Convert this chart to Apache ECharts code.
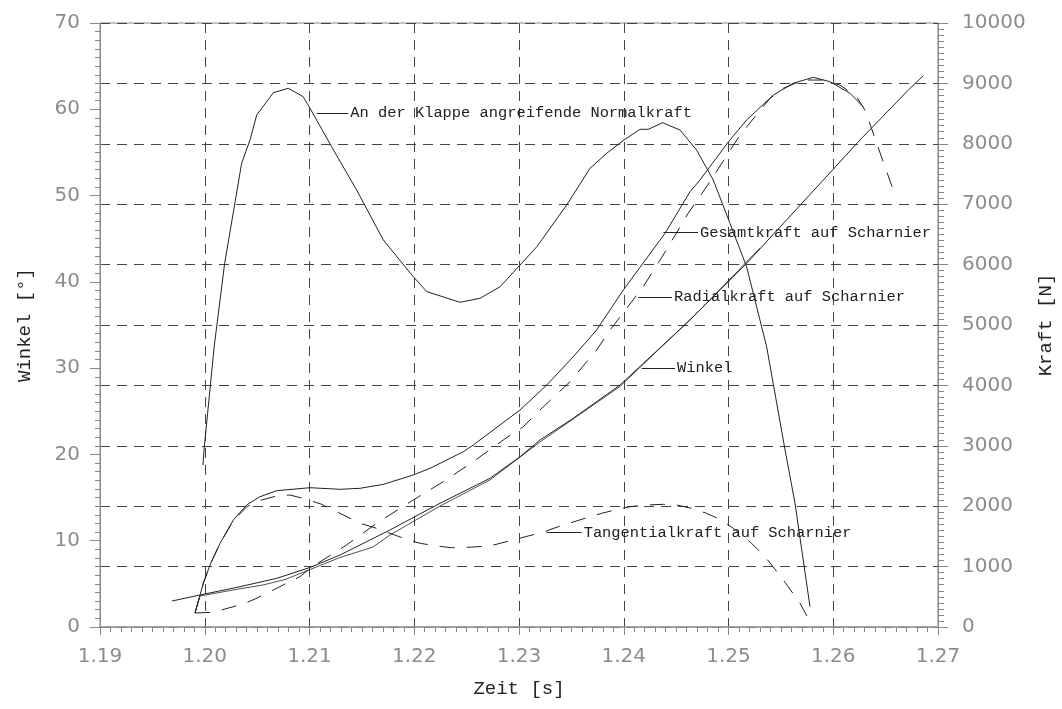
<!DOCTYPE html>
<html>
<head>
<meta charset="utf-8">
<script src="https://cdn.jsdelivr.net/npm/echarts@6/dist/echarts.min.js"></script>
<style>html,body{margin:0;padding:0;background:#fff}#c{width:1062px;height:709px}</style>
</head>
<body>
<div id="c"></div>
<script>
// ---- data ----
const xTicks = [1.19, 1.27, 0.01];
const leftTicks = [0, 70, 10];
const rightTicks = [0, 10000, 1000];

// Normalkraft [N]
const normT = [1.19983,1.19996,1.2009,1.2019,1.2029,1.20352,1.20432,1.20496,1.20655,1.20798,1.2094,1.21005,1.21211,1.2145,1.21705,1.21991,1.2212,1.22437,1.22628,1.2282,1.2301,1.2317,1.23455,1.23678,1.23837,1.24002,1.24155,1.24234,1.24371,1.24537,1.24695,1.24855,1.25014,1.25173,1.25364,1.2554,1.25635,1.25778];
const normF = [2682,2985,4641,6021,7041,7677,8063,8477,8846,8919,8780,8588,7952,7235,6407,5800,5552,5376,5442,5634,5993,6296,6987,7594,7843,8063,8240,8240,8349,8228,7897,7400,6683,5965,4641,2930,2048,336];

// Gesamtkraft [N]
const gesT = [1.19907,1.19986,1.2005,1.20146,1.20273,1.204,1.20527,1.20686,1.21005,1.21291,1.21482,1.21705,1.21991,1.2215,1.22468,1.22563,1.2301,1.23265,1.23518,1.23741,1.23996,1.24394,1.24633,1.24728,1.25,1.25173,1.25428,1.25618,1.2581,1.25969,1.2616,1.26286];
const gesF = [232,723,1026,1386,1771,2020,2157,2257,2306,2280,2296,2362,2517,2627,2902,3013,3593,4006,4475,4917,5579,6518,7207,7401,8035,8394,8808,9002,9101,9028,8836,8614];

// Radialkraft [N]
const radT = [1.19907,1.20081,1.20193,1.20368,1.2048,1.20655,1.20766,1.20909,1.21005,1.21227,1.21354,1.21641,1.21991,1.22277,1.22563,1.22849,1.23041,1.232,1.23487,1.23741,1.23869,1.24186,1.24377,1.24615,1.24823,1.2511,1.25253,1.25396,1.25523,1.25714,1.25905,1.26064,1.26222,1.26302,1.26366,1.26461,1.26573];
const radF = [232,243,298,381,464,613,712,833,972,1220,1358,1717,2103,2406,2737,3096,3316,3593,4061,4586,4917,5634,6159,6849,7373,8146,8449,8753,8919,9056,9056,8973,8780,8560,8250,7780,7235];

// Tangentialkraft [N]
const tanT = [1.19907,1.19986,1.2005,1.20146,1.20273,1.204,1.20543,1.20686,1.20814,1.20973,1.21116,1.21259,1.21387,1.21482,1.21641,1.21768,1.21927,1.22055,1.22213,1.22356,1.22518,1.22723,1.22819,1.22945,1.23088,1.23216,1.23375,1.2363,1.23789,1.23916,1.2406,1.24218,1.24377,1.24505,1.24648,1.24791,1.24934,1.25045,1.2522,1.25348,1.25475,1.2557,1.25683,1.25778];
const tanF = [232,723,1026,1386,1760,1990,2103,2169,2185,2114,2031,1909,1800,1717,1634,1551,1452,1386,1341,1313,1320,1341,1386,1440,1507,1561,1661,1800,1882,1937,1992,2020,2031,2020,1965,1882,1771,1634,1386,1164,889,667,392,88];

// Winkel [deg]
const winT = [1.19687,1.19955,1.20336,1.20687,1.21005,1.21291,1.21768,1.22246,1.22723,1.2301,1.232,1.23518,1.23964,1.246,1.25173,1.25905,1.26255,1.26717,1.2686];
const winW = [3.01,3.71,4.67,5.64,6.9,8.34,11.24,14.34,17.23,19.74,21.67,24.19,28.04,35.2,42.15,51.8,56.44,62.23,63.9];

// second, nearly coincident angle trace [deg]
const win2T = [1.19907,1.19955,1.20308,1.20556,1.20766,1.21005,1.21291,1.21606,1.21768,1.22246,1.22723,1.232,1.23964,1.24728,1.25301];
const win2W = [1.62,3.59,4.37,4.87,5.5,6.66,8.05,9.27,10.66,14.02,17.04,21.44,27.87,36.74,43.92];

// annotations: text, leader start t, leader end t, value
const annoText = ['An der Klappe angreifende Normalkraft','Gesamtkraft auf Scharnier','Radialkraft auf Scharnier','Winkel','Tangentialkraft auf Scharnier'];
const annoT0 = [1.21069,1.24378,1.24139,1.24171,1.23264];
const annoT1 = [1.2137,1.24709,1.24461,1.24489,1.23598];
const annoV  = [8505,6528,5459,29.98,1561];

// ---- chart ----
const zip = (a,b) => a.map((v,i)=>[v,b[i]]);
const MONO = 'Liberation Mono';
const TXT = '#222';
function anno(i){
  return {
    silent: true, symbol: ['none','none'], animation: false,
    lineStyle: {type: 'solid', color: TXT, width: 1},
    label: {show: true, position: 'end', distance: 2, formatter: annoText[i],
            fontFamily: MONO, fontSize: 15.4, color: TXT},
    emphasis: {disabled: true},
    data: [[{coord: [annoT0[i], annoV[i]]}, {coord: [annoT1[i], annoV[i]]}]]
  };
}
const solid = {color: TXT, width: 1, type: 'solid'};
const dashed = {color: TXT, width: 1, type: [15, 12]};
const tickLbl = {fontFamily: 'DejaVu Sans', fontSize: 20, color: '#8c8c8c'};
const gridDash = {color: '#444', width: 1, type: [10, 7]};

const chart = echarts.init(document.getElementById('c'), null, {renderer: 'canvas'});
chart.setOption({
  animation: false,
  backgroundColor: '#fff',
  grid: {left: 100, right: 124, top: 23, bottom: 82, containLabel: false, outerBoundsMode: 'none',
         show: true, borderColor: '#888', borderWidth: 1},
  xAxis: {
    type: 'value', min: xTicks[0], max: xTicks[1], interval: xTicks[2],
    name: 'Zeit [s]', nameLocation: 'middle', nameGap: 52,
    nameTextStyle: {fontFamily: MONO, fontSize: 19, color: TXT},
    axisLine: {show: true, onZero: false, lineStyle: {color: '#999', width: 1.5}},
    axisTick: {show: true, length: 8, lineStyle: {color: '#888'}},
    minorTick: {show: true, splitNumber: 10, length: 5, lineStyle: {color: '#888'}},
    axisLabel: Object.assign({margin: 20, formatter: v => v.toFixed(2)}, tickLbl),
    splitLine: {show: true, lineStyle: gridDash}
  },
  yAxis: [{
    type: 'value', min: leftTicks[0], max: leftTicks[1], interval: leftTicks[2], position: 'left',
    name: 'Winkel [°]', nameLocation: 'middle', nameGap: 66, nameRotate: 90,
    nameTextStyle: {fontFamily: MONO, fontSize: 19, color: TXT},
    axisLine: {show: true, lineStyle: {color: '#888'}},
    axisTick: {show: true, length: 10, lineStyle: {color: '#888'}},
    minorTick: {show: true, splitNumber: 10, length: 5, lineStyle: {color: '#888'}},
    axisLabel: Object.assign({margin: 20, formatter: v => String(v)}, tickLbl),
    splitLine: {show: false}
  }, {
    type: 'value', min: rightTicks[0], max: rightTicks[1], interval: rightTicks[2], position: 'right',
    name: 'Kraft [N]', nameLocation: 'middle', nameGap: 98, nameRotate: 90,
    nameTextStyle: {fontFamily: MONO, fontSize: 19, color: TXT},
    axisLine: {show: true, lineStyle: {color: '#888'}},
    axisTick: {show: true, length: 10, lineStyle: {color: '#888'}},
    minorTick: {show: true, splitNumber: 10, length: 6, lineStyle: {color: '#888'}},
    axisLabel: Object.assign({margin: 24, formatter: v => String(v)}, tickLbl),
    splitLine: {show: true, lineStyle: gridDash}
  }],
  series: [
    {name: 'Normalkraft', type: 'line', yAxisIndex: 1, data: zip(normT, normF), showSymbol: false,
     smooth: false, lineStyle: solid, markLine: anno(0)},
    {name: 'Gesamtkraft', type: 'line', yAxisIndex: 1, data: zip(gesT, gesF), showSymbol: false,
     smooth: false, lineStyle: solid, markLine: anno(1)},
    {name: 'Radialkraft', type: 'line', yAxisIndex: 1, data: zip(radT, radF), showSymbol: false,
     smooth: false, lineStyle: dashed, markLine: anno(2)},
    {name: 'Winkel', type: 'line', yAxisIndex: 0, data: zip(winT, winW), showSymbol: false,
     smooth: false, lineStyle: solid, markLine: anno(3)},
    {name: 'Winkel2', type: 'line', yAxisIndex: 0, data: zip(win2T, win2W), showSymbol: false,
     smooth: false, lineStyle: {color: TXT, width: 0.8, type: 'solid'}},
    {name: 'Tangentialkraft', type: 'line', yAxisIndex: 1, data: zip(tanT, tanF), showSymbol: false,
     smooth: false, lineStyle: dashed, markLine: anno(4)}
  ]
});
</script>
</body>
</html>
